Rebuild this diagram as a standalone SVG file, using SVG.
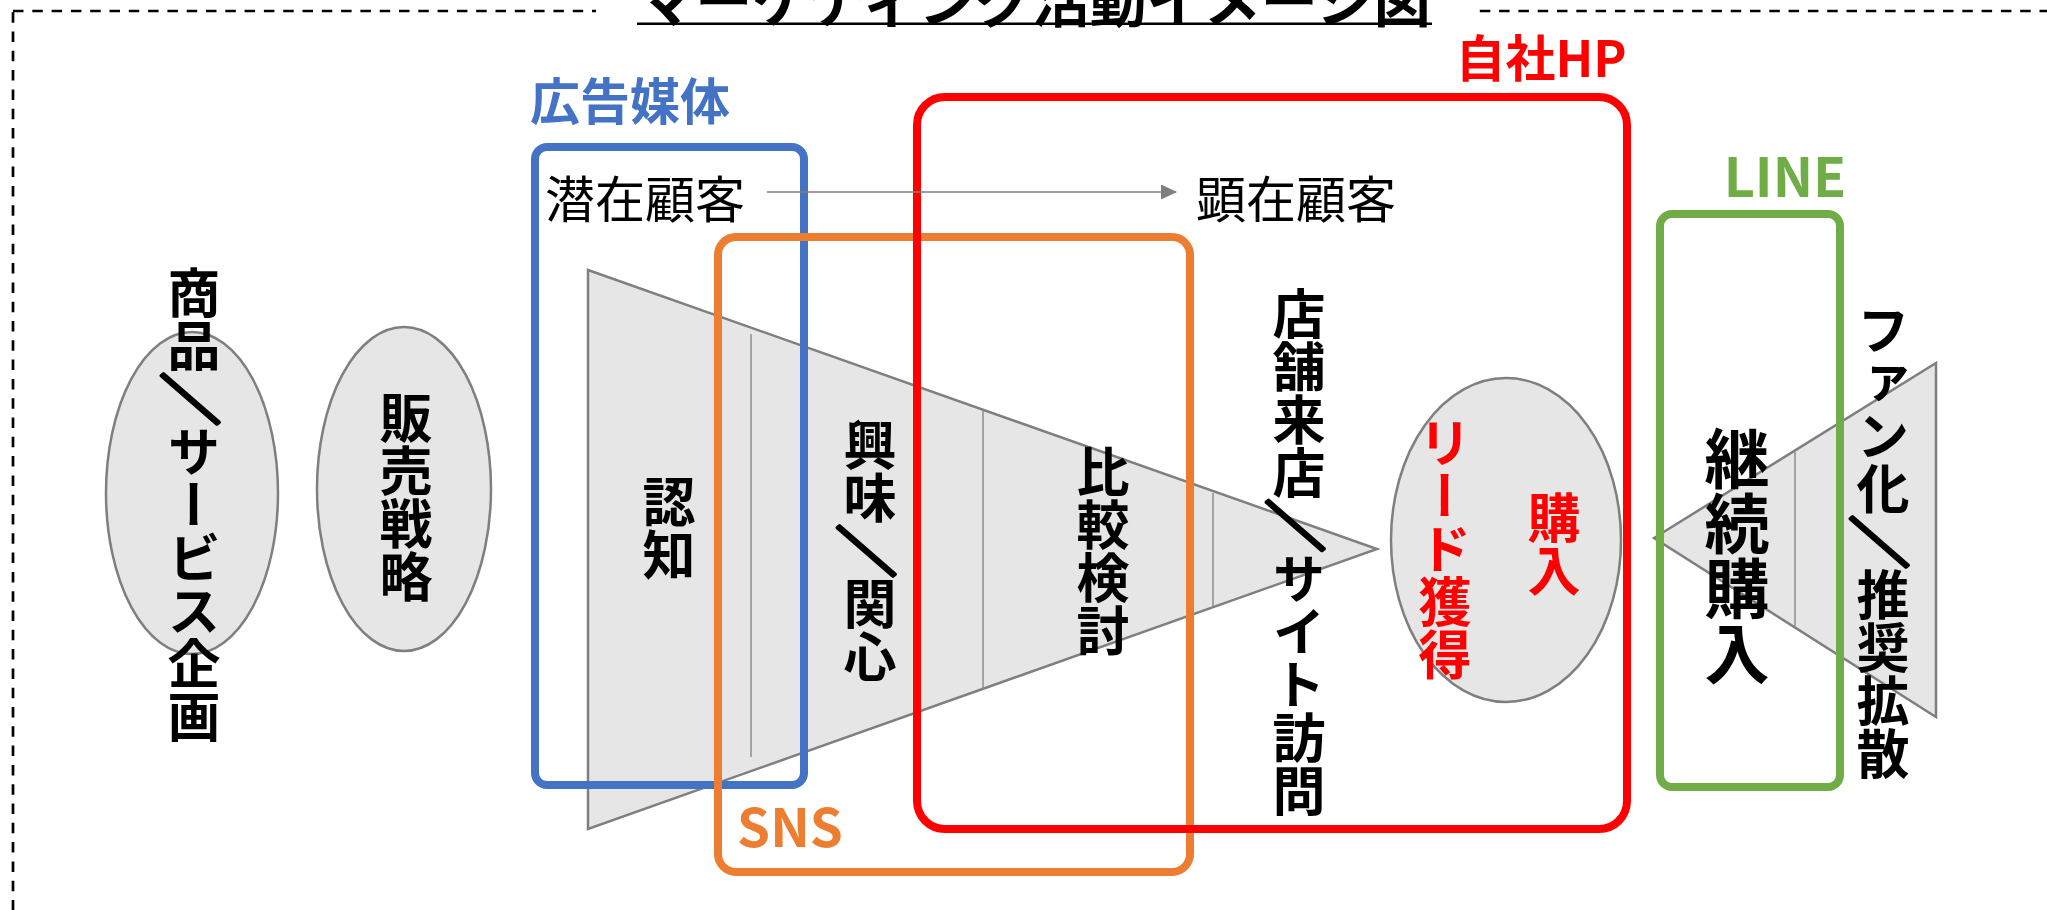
<svg xmlns="http://www.w3.org/2000/svg" width="2047" height="910" viewBox="0 0 2047 910">
  <style>
    .jp { font-family: "Noto Sans CJK JP", "Noto Sans", sans-serif; }
    .b { font-weight: 700; }
    .vt { writing-mode: vertical-rl; text-anchor: middle; font-weight: 700; font-family: "Noto Sans CJK JP", "Noto Sans", sans-serif; font-size: 53px; fill: #000; }
    .sl { text-anchor: middle; dominant-baseline: central; font-weight: 700; font-family: "Noto Sans CJK JP", "Noto Sans", sans-serif; font-size: 53px; fill: #000; stroke: #000; stroke-width: 3.5; stroke-linejoin: round; }
    .red { fill: #FF0000; }
    .hz { text-anchor: middle; dominant-baseline: central; }
    .shape { fill: #E6E6E6; stroke: #7F7F7F; stroke-width: 2.5; }
    .div { stroke: #8C8C8C; stroke-width: 1.5; fill: none; }
    .frame { fill: none; stroke-width: 8; }
  </style>
  <defs>
    <marker id="arr" markerWidth="16" markerHeight="16" refX="15" refY="7.5" orient="auto" markerUnits="userSpaceOnUse">
      <path d="M0,0 L16,7.5 L0,15 Z" fill="#7F7F7F"/>
    </marker>
  </defs>
  <rect width="2047" height="910" fill="#fff"/>

  <!-- dashed outer frame -->
  <rect x="13" y="11" width="2200" height="1000" fill="none" stroke="#000" stroke-width="2.7" stroke-dasharray="10.5 8.8"/>
  <rect x="596" y="0" width="878" height="22" fill="#fff"/>

  <g id="title">
    <text class="jp b hz" x="1034.5" y="-3" font-size="57" fill="#000">マーケティング活動イメージ図</text>
    <line x1="637" y1="23.8" x2="1432" y2="23.8" stroke="#000" stroke-width="2.4"/>
  </g>

  <g id="node-product">
    <ellipse class="shape" cx="192" cy="493" rx="86" ry="161"/>
    <text class="vt" x="194" y="319.5">商品</text>
    <text class="sl" transform="translate(194 399) rotate(90) scale(1 1.15)">／</text>
    <text class="vt" x="194" y="584.5">サービス企画</text>
  </g>

  <g id="node-strategy">
    <ellipse class="shape" cx="404" cy="489" rx="87" ry="162"/>
    <text class="vt" x="406" y="497">販売戦略</text>
  </g>

  <g id="node-funnel">
    <polygon class="shape" points="588,270 1377,549 588,829"/>
    <line class="div" x1="751" y1="334" x2="751" y2="757"/>
    <line class="div" x1="983" y1="411" x2="983" y2="689"/>
    <line class="div" x1="1213" y1="493" x2="1213" y2="606"/>
    <text class="vt" x="669" y="528">認知</text>
    <text class="vt" x="870" y="471.5">興味</text>
    <text class="sl" transform="translate(870 551) rotate(90) scale(1 1.15)">／</text>
    <text class="vt" x="870" y="630.5">関心</text>
    <text class="vt" x="1103" y="551">比較検討</text>
  </g>

  <g id="node-visit">
    <text class="vt" x="1299" y="393">店舗来店</text>
    <text class="sl" transform="translate(1299 525.5) rotate(90) scale(1 1.15)">／</text>
    <text class="vt" x="1299" y="684.5">サイト訪問</text>
  </g>

  <g id="node-purchase">
    <ellipse class="shape" cx="1506" cy="540" rx="115" ry="162"/>
    <text class="vt red" x="1445" y="549">リード獲得</text>
    <text class="vt red" x="1554" y="544">購入</text>
  </g>

  <g id="node-fan">
    <polygon class="shape" points="1654,538 1936,363 1936,717"/>
    <line class="div" x1="1795" y1="452" x2="1795" y2="626"/>
    <text class="vt" x="1883" y="409.5">ファン化</text>
    <text class="sl" transform="translate(1883 542) rotate(90) scale(1 1.15)">／</text>
    <text class="vt" x="1883" y="674.5">推奨拡散</text>
  </g>

  <g id="group-ad">
    <rect class="frame" x="535" y="147" width="269" height="638" rx="12" stroke="#4472C4"/>
    <text class="jp b hz" x="630" y="98" font-size="50" fill="#4472C4">広告媒体</text>
  </g>

  <g id="group-sns">
    <rect class="frame" x="718" y="237" width="472" height="635" rx="18" stroke="#ED7D31"/>
    <text class="jp b hz" x="790" y="824" font-size="53" fill="#ED7D31">SNS</text>
  </g>

  <g id="group-hp">
    <rect class="frame" x="917" y="97" width="710" height="732" rx="28" stroke="#FF0000"/>
    <text class="jp b hz" x="1541" y="55" font-size="50" fill="#FF0000">自社HP</text>
  </g>

  <g id="group-line">
    <rect class="frame" x="1660" y="214" width="180" height="573" rx="12" stroke="#70AD47"/>
    <text class="jp b hz" x="1785" y="173" font-size="54" fill="#70AD47">LINE</text>
  </g>

  <g id="node-repeat">
    <text class="vt" x="1737" y="556" style="font-size:65px">継続購入</text>
  </g>

  <g id="node-latent">
    <text class="jp hz" x="645" y="196" font-size="50" fill="#000">潜在顧客</text>
  </g>
  <g id="node-manifest">
    <text class="jp hz" x="1296" y="196" font-size="50" fill="#000">顕在顧客</text>
  </g>

  <g id="connectors">
    <line x1="767" y1="192" x2="1176" y2="192" stroke="#7F7F7F" stroke-width="1.5" marker-end="url(#arr)"/>
  </g>
</svg>
